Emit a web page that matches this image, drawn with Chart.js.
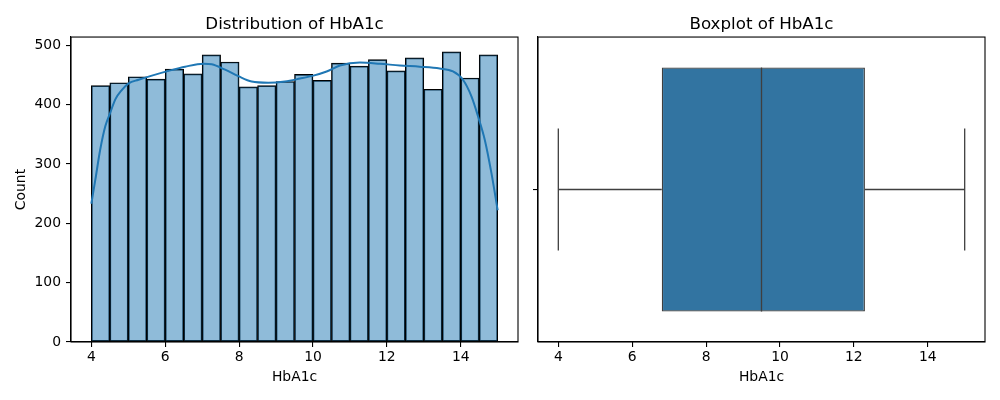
<!DOCTYPE html>
<html>
<head>
<meta charset="utf-8">
<script src="https://cdn.jsdelivr.net/npm/chart.js@4/dist/chart.umd.min.js"></script>
<style>
  html, body { margin: 0; padding: 0; background: #ffffff; }
  #wrap { position: relative; width: 1000px; height: 400px; }
  .panel { position: absolute; top: 0; height: 400px; }
  #p1 { left: 0; width: 528px; }
  #p2 { left: 528px; width: 472px; }
</style>
</head>
<body>
<div id="wrap">
  <div class="panel" id="p1"><canvas id="hist"></canvas></div>
  <div class="panel" id="p2"><canvas id="box"></canvas></div>
</div>
<script>
// ---------- data ----------
const binStarts = [4.0, 4.5, 5.0, 5.5, 6.0, 6.5, 7.0, 7.5, 8.0, 8.5, 9.0, 9.5, 10.0, 10.5, 11.0, 11.5, 12.0, 12.5, 13.0, 13.5, 14.0, 14.5];
const binEnd = 15.0;
const binCounts = [432, 437, 447, 443, 460, 452, 484, 472, 430, 432, 439, 451, 441, 470, 465, 476, 457, 479, 426, 489, 445, 484];

const kdeX = [4.0, 4.11, 4.24, 4.38, 4.51, 4.65, 4.83, 5.01, 5.28, 5.64, 6.09, 6.54, 7.04, 7.26, 7.62, 7.98, 8.34, 8.79, 9.24, 9.65, 10.01, 10.37, 10.73, 11.27, 11.81, 12.35, 12.89, 13.43, 13.79, 14.06, 14.29, 14.47, 14.65, 14.83, 15.0];
const kdeY = [233, 274, 324, 364, 386, 409, 425, 436, 442, 449, 457, 464, 469, 468, 459, 448, 439, 437, 439, 444, 449, 456, 466, 471, 469, 466, 464, 461, 456, 442, 414, 380, 341, 285, 222];

const boxStats = { low: 4.0, q1: 6.8, median: 9.5, q3: 12.3, high: 15.0 };

const xTicks = [4, 6, 8, 10, 12, 14];
const countTicks = [0, 100, 200, 300, 400, 500];
const xLimits = [3.45, 15.55];
const countMax = 514;

// ---------- styles ----------
const FONT = 'DejaVu Sans';
const TICK_SIZE = 13.9;
const TITLE_SIZE = 16.7;
const BOX_WIDTH = 0.8;
const CAP_WIDTH = 0.4;

Chart.defaults.font.family = FONT;
Chart.defaults.color = '#000000';
Chart.defaults.animation = false;

const framePlugin = {
  id: 'frame',
  afterDatasetsDraw(chart) {
    const a = chart.chartArea, ctx = chart.ctx;
    ctx.save();
    ctx.strokeStyle = '#000000';
    ctx.lineWidth = 1.1;
    ctx.strokeRect(a.left, a.top, a.right - a.left, a.bottom - a.top);
    ctx.restore();
  }
};

function xAxis() {
  return {
    type: 'linear',
    position: 'bottom',
    min: xLimits[0],
    max: xLimits[1],
    offset: false,
    grid: { drawOnChartArea: false, drawTicks: true, tickLength: 5, color: '#000000', lineWidth: 1.1, offset: false },
    border: { display: true, color: '#000000', width: 1.1 },
    ticks: { font: { size: TICK_SIZE }, color: '#000000', padding: 2, maxRotation: 0 },
    title: { display: true, text: 'HbA1c', font: { size: TICK_SIZE }, color: '#000000', padding: { top: 0, bottom: 14.5 } },
    afterBuildTicks: s => { s.ticks = xTicks.map(v => ({ value: v })); },
    afterFit: s => { s.height = 58; }
  };
}

function titleOpts(text) {
  return {
    display: true, text: text, fullSize: false,
    font: { size: TITLE_SIZE, weight: 'normal' }, color: '#000000',
    padding: { top: 15, bottom: 2 }
  };
}

// ---------- histogram ----------
const binWidth = binStarts[1] - binStarts[0];
const histData = binStarts.map((s, i) => ({ x: s + binWidth / 2, y: binCounts[i] }));
const kdeData = kdeX.map((x, i) => ({ x: x, y: kdeY[i] }));

new Chart(document.getElementById('hist'), {
  type: 'bar',
  data: {
    datasets: [
      {
        type: 'line', data: kdeData, borderColor: '#1f77b4', borderWidth: 2,
        pointRadius: 0, cubicInterpolationMode: 'monotone', fill: false
      },
      {
        type: 'bar', data: histData,
        backgroundColor: 'rgba(31,119,180,0.5)', borderColor: '#000000', borderWidth: 1,
        borderSkipped: false, barPercentage: 1, categoryPercentage: 1
      }
    ]
  },
  options: {
    responsive: true, maintainAspectRatio: false,
    layout: { padding: { left: 0, right: 10, top: 0, bottom: 0 } },
    plugins: { legend: { display: false }, tooltip: { enabled: false }, title: titleOpts('Distribution of HbA1c') },
    scales: {
      x: xAxis(),
      y: {
        type: 'linear', position: 'left', min: 0, max: countMax,
        grid: { drawOnChartArea: false, drawTicks: true, tickLength: 5, color: '#000000', lineWidth: 1.1 },
        border: { display: true, color: '#000000', width: 1.1 },
        ticks: { font: { size: TICK_SIZE }, color: '#000000', padding: 5 },
        title: { display: true, text: 'Count', font: { size: TICK_SIZE }, color: '#000000', padding: { top: 13, bottom: 0 } },
        afterBuildTicks: s => { s.ticks = countTicks.map(v => ({ value: v })); },
        afterFit: s => { s.width = 71; }
      }
    }
  },
  plugins: [framePlugin]
});

// ---------- boxplot ----------
const lineStyle = { type: 'line', borderColor: '#3f3f3f', borderWidth: 1.3, pointRadius: 0, fill: false, tension: 0 };

new Chart(document.getElementById('box'), {
  type: 'bar',
  data: {
    datasets: [
      Object.assign({}, lineStyle, { data: [{ x: boxStats.median, y: -BOX_WIDTH / 2 }, { x: boxStats.median, y: BOX_WIDTH / 2 }] }),
      Object.assign({}, lineStyle, { data: [{ x: boxStats.low, y: 0 }, { x: boxStats.q1, y: 0 }] }),
      Object.assign({}, lineStyle, { data: [{ x: boxStats.q3, y: 0 }, { x: boxStats.high, y: 0 }] }),
      Object.assign({}, lineStyle, { data: [{ x: boxStats.low, y: -CAP_WIDTH / 2 }, { x: boxStats.low, y: CAP_WIDTH / 2 }] }),
      Object.assign({}, lineStyle, { data: [{ x: boxStats.high, y: -CAP_WIDTH / 2 }, { x: boxStats.high, y: CAP_WIDTH / 2 }] }),
      {
        type: 'bar', indexAxis: 'y',
        data: [{ x: [boxStats.q1, boxStats.q3], y: 0 }],
        backgroundColor: '#3274a1', borderColor: '#3f3f3f', borderWidth: 1.3,
        borderSkipped: false, barPercentage: BOX_WIDTH, categoryPercentage: 1
      }
    ]
  },
  options: {
    responsive: true, maintainAspectRatio: false,
    layout: { padding: { left: 0, right: 15, top: 0, bottom: 0 } },
    plugins: { legend: { display: false }, tooltip: { enabled: false }, title: titleOpts('Boxplot of HbA1c') },
    scales: {
      x: xAxis(),
      y: {
        type: 'linear', position: 'left', min: -0.5, max: 0.5, offset: false,
        grid: { drawOnChartArea: false, drawTicks: true, tickLength: 5, color: '#000000', lineWidth: 1.1, offset: false },
        border: { display: true, color: '#000000', width: 1.1 },
        ticks: { display: true, callback: () => '', padding: 0 },
        afterBuildTicks: s => { s.ticks = [{ value: 0 }]; },
        afterFit: s => { s.width = 10; }
      }
    }
  },
  plugins: [framePlugin]
});
</script>
</body>
</html>
